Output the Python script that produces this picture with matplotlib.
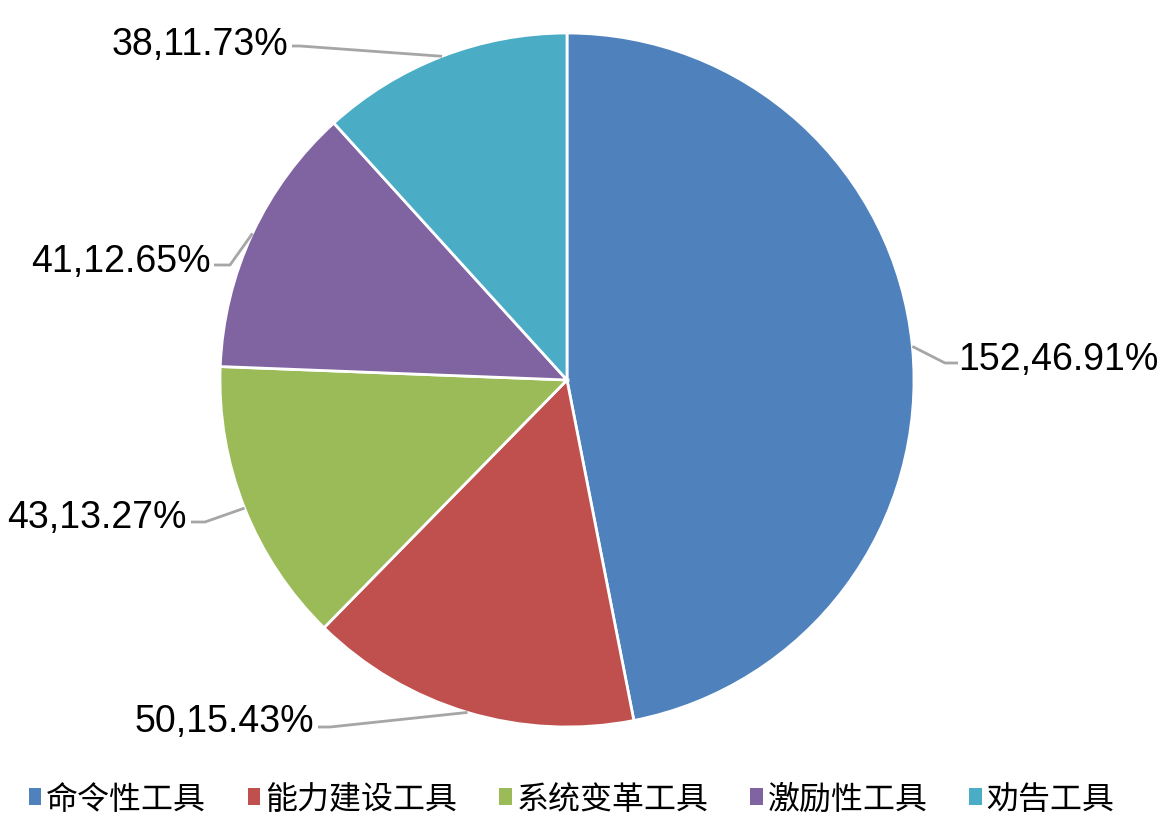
import numpy as np
import matplotlib.pyplot as plt
from matplotlib.patches import Patch

categories = ['命令性工具', '能力建设工具', '系统变革工具', '激励性工具', '劝告工具']
counts = [152, 50, 43, 41, 38]
colors = ['#4F81BD', '#C0504D', '#9BBB59', '#8064A2', '#4BACC6']

W, H = 1157, 828
cx, cy, R = 567, H - 381, 347

# label layout in pixels (top-origin): text anchor x, y, alignment, elbow point, end point
label_layout = [
    (958, 360, 'left', (945, 364), (958, 364)),
    (314, 722, 'right', (330, 728), (318, 728)),
    (187, 518, 'right', (205, 523), (191, 523)),
    (211, 262, 'right', (230, 266), (214, 266)),
    (288, 45, 'right', (300, 47), (292, 47)),
]

fig = plt.figure(figsize=(W / 100, H / 100), dpi=100)
ax = fig.add_axes([0, 0, 1, 1])

wedges, _ = ax.pie(counts, colors=colors, startangle=90, counterclock=False,
                   center=(cx, cy), radius=R,
                   wedgeprops=dict(edgecolor='white', linewidth=2))
ax.set_xlim(0, W)
ax.set_ylim(0, H)
ax.set_aspect('auto')
ax.axis('off')

total = sum(counts)
for w, n, (tx, ty, ha, elb, end) in zip(wedges, counts, label_layout):
    mid = np.deg2rad((w.theta1 + w.theta2) / 2)
    ex, ey = cx + R * np.cos(mid), cy + R * np.sin(mid)
    ax.plot([ex, elb[0], end[0]], [ey, H - elb[1], H - end[1]],
            color='#A6A6A6', lw=2, solid_capstyle='butt')
    ax.text(tx, H - ty, f'{n},{n / total * 100:.2f}%', ha=ha, va='center',
            fontsize=27, family='Liberation Sans', color='black')

handles = [Patch(facecolor=c, edgecolor='none') for c in colors]
leg = fig.legend(handles, categories, loc='center', bbox_to_anchor=(0.494, 1 - 800 / H),
                 ncol=5, frameon=False, handlelength=0.4, handleheight=0.43,
                 handletextpad=0.15, columnspacing=1.3, borderpad=0,
                 prop={'family': 'Noto Sans CJK SC', 'size': 23})

fig.savefig('out.png', dpi=100)
